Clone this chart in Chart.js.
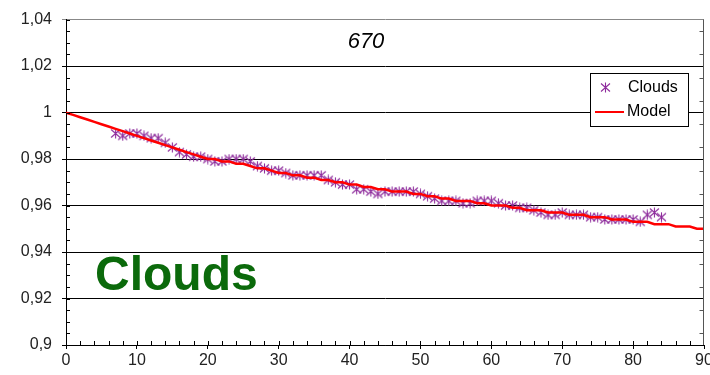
<!DOCTYPE html>
<html>
<head>
<meta charset="utf-8">
<script src="https://cdn.jsdelivr.net/npm/chart.js@4.4.0/dist/chart.umd.min.js"></script>
<style>
  html, body { margin: 0; padding: 0; background: #fff; }
  #wrap { width: 710px; height: 375px; }
</style>
</head>
<body>
<div id="wrap"><canvas id="chart" width="710" height="375"></canvas></div>
<script>
// --- datos ---
const chartTitle = '670';
const bigLabel = 'Clouds';
const seriesNames = ['Clouds', 'Model'];

const cloudsX = [7, 8, 9, 10, 11, 12, 13, 14, 15, 16, 17, 18, 19, 20, 21, 22, 23, 24, 25, 26,
  27, 28, 29, 30, 31, 32, 33, 34, 35, 36, 37, 38, 39, 40, 41, 42, 43, 44, 45, 46,
  47, 48, 49, 50, 51, 52, 53, 54, 55, 56, 57, 58, 59, 60, 61, 62, 63, 64, 65, 66,
  67, 68, 69, 70, 71, 72, 73, 74, 75, 76, 77, 78, 79, 80, 81, 82, 83, 84];
const cloudsY = [0.991, 0.990, 0.991, 0.991, 0.990, 0.989, 0.989, 0.987, 0.985, 0.983, 0.982, 0.981, 0.981, 0.980,
  0.979, 0.979, 0.980, 0.980, 0.980, 0.979, 0.977, 0.976, 0.975, 0.975, 0.974, 0.973, 0.973, 0.973,
  0.973, 0.973, 0.971, 0.970, 0.969, 0.969, 0.967, 0.967, 0.966, 0.965, 0.966, 0.966, 0.966, 0.966,
  0.966, 0.965, 0.964, 0.963, 0.962, 0.962, 0.962, 0.961, 0.961, 0.962, 0.962, 0.962, 0.961, 0.960,
  0.960, 0.959, 0.959, 0.958, 0.957, 0.956, 0.956, 0.957, 0.956, 0.956, 0.956, 0.955, 0.955, 0.954,
  0.954, 0.954, 0.954, 0.954, 0.953, 0.956, 0.957, 0.955];

const modelX = [0, 1, 2, 3, 4, 5, 6, 7, 8, 9, 10, 11, 12, 13, 14, 15, 16, 17, 18, 19, 20,
  21, 22, 23, 24, 25, 26, 27, 28, 29, 30, 31, 32, 33, 34, 35, 36, 37, 38, 39, 40,
  41, 42, 43, 44, 45, 46, 47, 48, 49, 50, 51, 52, 53, 54, 55, 56, 57, 58, 59, 60,
  61, 62, 63, 64, 65, 66, 67, 68, 69, 70, 71, 72, 73, 74, 75, 76, 77, 78, 79, 80,
  81, 82, 83, 84, 85, 86, 87, 88, 89, 90];
const modelY = [1.000, 0.999, 0.998, 0.997, 0.996, 0.995, 0.994, 0.993, 0.992, 0.991, 0.990,
  0.989, 0.988, 0.987, 0.986, 0.985, 0.984, 0.983, 0.982, 0.981, 0.980,
  0.980, 0.979, 0.979, 0.978, 0.978, 0.977, 0.976, 0.976, 0.975, 0.974,
  0.974, 0.973, 0.973, 0.972, 0.972, 0.971, 0.971, 0.970, 0.970, 0.969,
  0.969, 0.968, 0.968, 0.967, 0.967, 0.966, 0.966, 0.966, 0.965, 0.965,
  0.964, 0.964, 0.963, 0.963, 0.962, 0.962, 0.962, 0.961, 0.961, 0.960,
  0.960, 0.960, 0.959, 0.959, 0.958, 0.958, 0.958, 0.957, 0.957, 0.957,
  0.956, 0.956, 0.956, 0.955, 0.955, 0.955, 0.954, 0.954, 0.954, 0.953,
  0.953, 0.953, 0.952, 0.952, 0.952, 0.951, 0.951, 0.951, 0.950, 0.950];

const FONT = 'Liberation Sans, Arial, sans-serif';
const PURPLE = '#8e2c9c';

// marcador tipo asterisco (como Excel)
function starMarker(color) {
  const c = document.createElement('canvas');
  c.width = 11; c.height = 11;
  const g = c.getContext('2d');
  g.strokeStyle = color;
  g.lineWidth = 1.1;
  g.beginPath();
  g.moveTo(5.5, 0.5); g.lineTo(5.5, 10.5);
  g.moveTo(1, 1.5); g.lineTo(10, 9.5);
  g.moveTo(10, 1.5); g.lineTo(1, 9.5);
  g.stroke();
  return c;
}
const marker = starMarker(PURPLE);

function fmt(v) {
  return String(Number(v.toFixed(2))).replace('.', ',');
}

// --- decoracion: ticks menores, titulo, texto grande y leyenda ---
const decor = {
  id: 'decor',
  afterDraw(chart) {
    const ctx = chart.ctx;
    const a = chart.chartArea;
    const xs = chart.scales.x, ys = chart.scales.y;
    ctx.save();
    ctx.strokeStyle = '#000';
    ctx.lineWidth = 1;
    // ticks menores eje y
    for (let v = 0.905; v < 1.04; v += 0.005) {
      const y = Math.round(ys.getPixelForValue(v)) + 0.5;
      ctx.beginPath(); ctx.moveTo(a.left, y); ctx.lineTo(a.left + 4, y); ctx.stroke();
    }
    // ticks menores eje x
    for (let v = 2; v < 90; v += 2) {
      const x = Math.round(xs.getPixelForValue(v)) + 0.5;
      ctx.beginPath(); ctx.moveTo(x, a.bottom); ctx.lineTo(x, a.bottom - 4); ctx.stroke();
    }
    // borde derecho
    ctx.strokeStyle = '#555';
    const rx = Math.round(a.right) - 0.5;
    ctx.beginPath(); ctx.moveTo(rx, a.top); ctx.lineTo(rx, a.bottom); ctx.stroke();
    for (let v = 0.905; v < 1.04; v += 0.01) {
      const y = Math.round(ys.getPixelForValue(v)) + 0.5;
      ctx.beginPath(); ctx.moveTo(rx, y); ctx.lineTo(rx - 4, y); ctx.stroke();
    }

    // titulo
    ctx.fillStyle = '#000';
    ctx.font = 'italic 22px ' + FONT;
    ctx.textAlign = 'center';
    ctx.textBaseline = 'middle';
    ctx.fillText(chartTitle, 366, 42);

    // texto grande verde
    ctx.fillStyle = '#0b6a0b';
    ctx.font = 'bold 48px ' + FONT;
    ctx.textAlign = 'left';
    ctx.textBaseline = 'alphabetic';
    ctx.fillText(bigLabel, 95, 290);

    // leyenda
    const lx = 590.5, ly = 73.5, lw = 98, lh = 53;
    ctx.fillStyle = '#fff';
    ctx.fillRect(lx, ly, lw, lh);
    ctx.strokeStyle = '#000';
    ctx.strokeRect(lx, ly, lw, lh);
    ctx.font = '16px ' + FONT;
    ctx.fillStyle = '#000';
    ctx.textBaseline = 'middle';
    ctx.drawImage(marker, 600, 82);
    ctx.fillText(seriesNames[0], 628, 88);
    ctx.strokeStyle = '#ff0000';
    ctx.lineWidth = 2;
    ctx.beginPath(); ctx.moveTo(595, 112); ctx.lineTo(624, 112); ctx.stroke();
    ctx.fillText(seriesNames[1], 627, 112);
    ctx.restore();
  }
};

new Chart(document.getElementById('chart').getContext('2d'), {
  type: 'scatter',
  data: {
    datasets: [
      {
        label: seriesNames[0],
        data: cloudsX.map((x, i) => ({ x: x, y: cloudsY[i] })),
        pointStyle: marker,
        pointRadius: 5,
        order: 1
      },
      {
        label: seriesNames[1],
        data: modelX.map((x, i) => ({ x: x, y: modelY[i] })),
        showLine: true,
        borderColor: '#ff0000',
        borderWidth: 2.5,
        pointRadius: 0,
        tension: 0,
        order: 0
      }
    ]
  },
  options: {
    responsive: false,
    animation: false,
    events: [],
    layout: { padding: { top: 18, right: 6, left: 0, bottom: 0 } },
    plugins: {
      legend: { display: false },
      title: { display: false },
      tooltip: { enabled: false }
    },
    scales: {
      x: {
        type: 'linear',
        min: 0,
        max: 90,
        afterFit(s) { s.height = 30; s.paddingRight = 0; },
        ticks: { stepSize: 10, color: '#222', font: { family: FONT, size: 16 }, padding: 2, maxRotation: 0 },
        grid: { drawOnChartArea: false, drawTicks: true, tickLength: 4, color: '#000' },
        border: { color: '#000', width: 1 }
      },
      y: {
        min: 0.9,
        max: 1.04,
        afterFit(s) { s.width = 66; },
        ticks: { stepSize: 0.02, color: '#222', font: { family: FONT, size: 16 }, padding: 10, callback: v => fmt(v) },
        grid: {
          color: c => (c.tick && Math.abs(c.tick.value - 1.04) < 1e-6) ? '#888' : '#000',
          lineWidth: 1,
          tickLength: 4
        },
        border: { color: '#000', width: 1 }
      }
    }
  },
  plugins: [decor]
});
</script>
</body>
</html>
